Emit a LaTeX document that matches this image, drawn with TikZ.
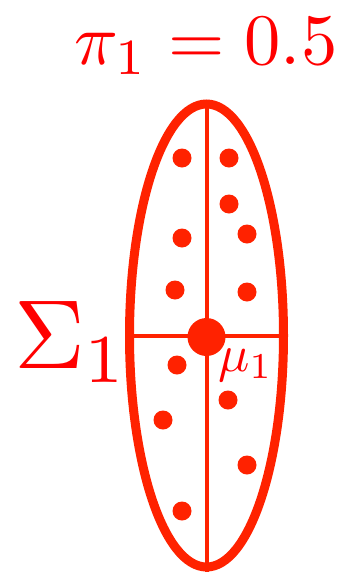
\documentclass[tikz,border=0pt]{standalone}
\usetikzlibrary{shapes.geometric}
\definecolor{shapecol}{RGB}{255,34,0}
\definecolor{txtcol}{RGB}{255,0,0}
\begin{document}
\begin{tikzpicture}[x=1pt,y=-1pt,
  pt/.style={circle,fill=shapecol,inner sep=0pt,minimum size=19pt},
  lbl/.style={text=txtcol,inner sep=0pt,anchor=base west}]
\useasboundingbox (0,0) rectangle (342,576);
\node[ellipse,draw=shapecol,line width=9pt,inner sep=0pt,minimum width=154pt,minimum height=463pt] (E) at (206.5,335.5) {};
\draw[shapecol,line width=4pt] (E.north) -- (E.south);
\draw[shapecol,line width=4pt] (E.west) -- (E.east);
\node[circle,fill=shapecol,inner sep=0pt,minimum size=38pt] (mu) at (206.5,337) {};
\foreach \i/\x/\y in {1/182/158,2/229/158,3/229/204,4/182/238,5/247/234,6/175/290,7/247/292,8/177/365,9/228/400,10/163/420,11/247/465,12/182/511}
  \node[pt] (p\i) at (\x,\y) {};
\node[lbl] (pi) at (74,64) {\scalebox{7.25}{$\pi_1=0.5$}};
\node[lbl] (sig) at (14,368) {\scalebox{9.8}{$\Sigma_1$}};
\node[lbl] (mul) at (218,371) {\scalebox{5.2}{$\mu_1$}};
\end{tikzpicture}
\end{document}
